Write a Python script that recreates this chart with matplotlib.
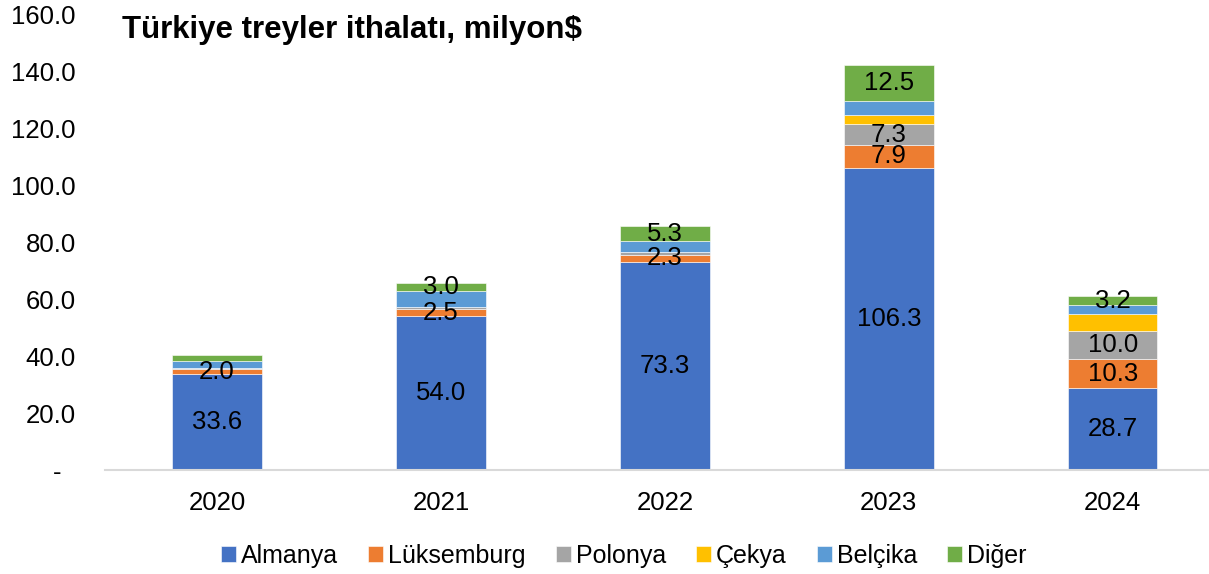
import numpy as np
import matplotlib
matplotlib.use("Agg")
import matplotlib.pyplot as plt

plt.rcParams['font.family'] = ['Liberation Sans', 'DejaVu Sans']

years = ['2020', '2021', '2022', '2023', '2024']
series_names = ['Almanya', 'Lüksemburg', 'Polonya', 'Çekya', 'Belçika', 'Diğer']
almanya = [33.6, 54.0, 73.3, 106.3, 28.7]
luksemburg = [2.0, 2.5, 2.3, 7.9, 10.3]
polonya = [0.2, 0.7, 0.9, 7.3, 10.0]
cekya = [0.0, 0.0, 0.0, 3.2, 5.8]
belcika = [2.6, 5.7, 4.0, 5.2, 3.1]
diger = [2.0, 3.0, 5.3, 12.5, 3.2]
# which values get a data label (as in the original chart)
show_label = [
    [True, True, True, True, True],
    [True, True, True, True, True],
    [False, False, False, True, True],
    [False, False, False, False, False],
    [False, False, False, False, False],
    [False, True, True, True, True],
]
colors = ['#4472C4', '#ED7D31', '#A5A5A5', '#FFC000', '#5B9BD5', '#70AD47']

values = [almanya, luksemburg, polonya, cekya, belcika, diger]

fig = plt.figure(figsize=(12.09, 5.74), dpi=100)
ax = fig.add_axes([105 / 1209, 104 / 574, 1104 / 1209, 455 / 574])

x = np.arange(len(years))
bottom = np.zeros(len(years))
for name, vals, col, lab in zip(series_names, values, colors, show_label):
    vals = np.array(vals)
    bars = ax.bar(x, vals, 0.4, bottom=bottom, color=col, label=name,
                  edgecolor='white', linewidth=0.4)
    for i, b in enumerate(bars):
        if lab[i]:
            ax.text(b.get_x() + b.get_width() / 2, bottom[i] + vals[i] / 2,
                    f'{vals[i]:.1f}', ha='center', va='center', fontsize=18.5,
                    color='black')
    bottom += vals

ax.set_xlim(-0.5, 4.43)
ax.set_ylim(0, 160)
ax.set_yticks(np.arange(0, 161, 20))
ax.set_yticklabels(['-  '] + [f'{v:.1f}' for v in np.arange(20, 161, 20)])
ax.set_xticks(x)
ax.set_xticklabels(years)
ax.tick_params(axis='both', length=0, labelsize=18.5)
ax.tick_params(axis='y', pad=21)
ax.tick_params(axis='x', pad=15)
for s in ['top', 'right', 'left']:
    ax.spines[s].set_visible(False)
ax.spines['bottom'].set_color('#d9d9d9')
ax.spines['bottom'].set_linewidth(1.5)

fig.text(122 / 1209, 1 - 30 / 574, 'Türkiye treyler ithalatı, milyon$',
         fontsize=22.5, fontweight='bold', va='center', ha='left')

fig.legend(loc='center', bbox_to_anchor=(624 / 1209, 1 - 556 / 574), ncol=6,
           frameon=False, fontsize=18, handlelength=0.6, handleheight=0.6,
           handletextpad=0.2, columnspacing=1.2)

fig.savefig('out.png', dpi=100)
